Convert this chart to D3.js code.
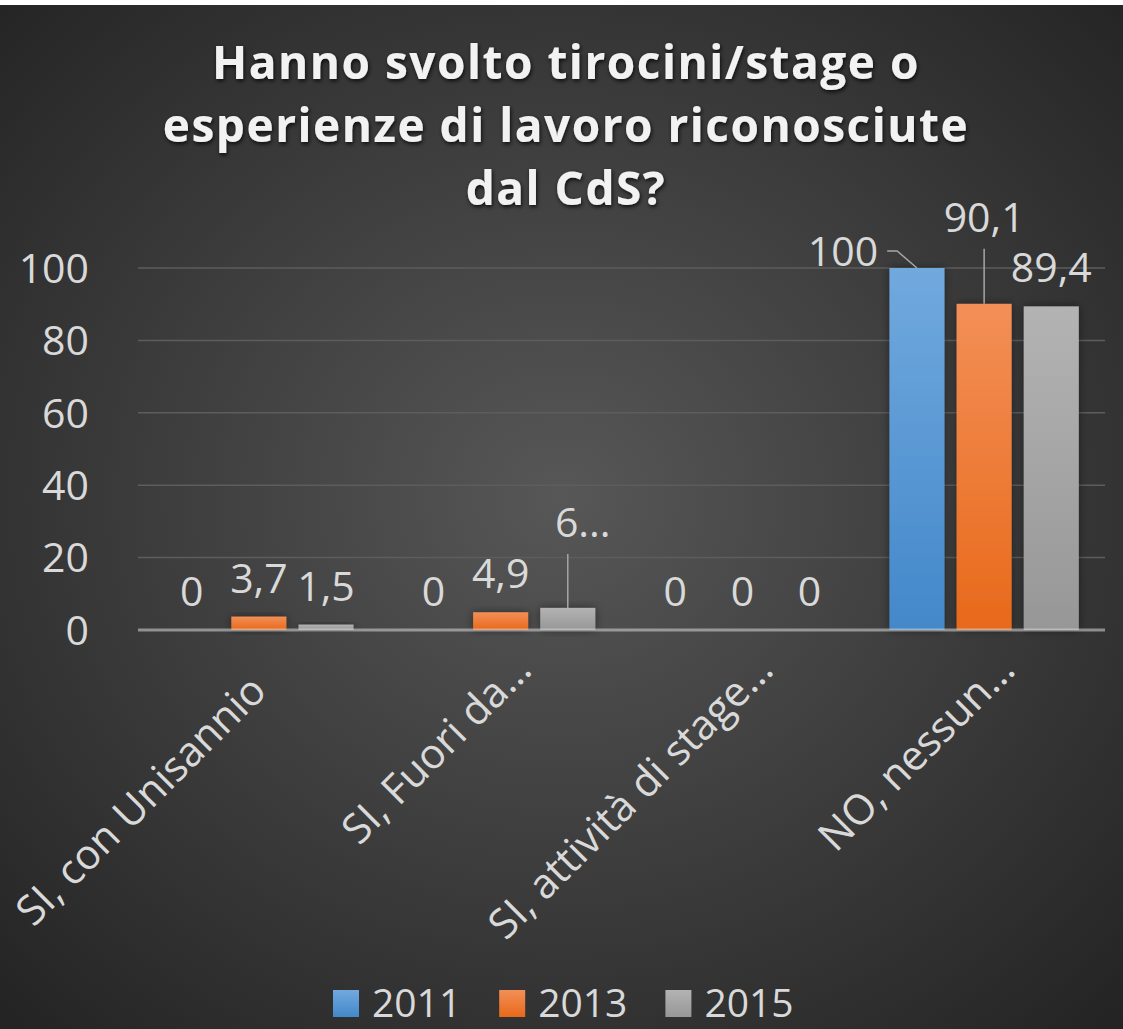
<!DOCTYPE html>
<html>
<head>
<meta charset="utf-8">
<script src="https://cdn.jsdelivr.net/npm/d3@7"></script>
<style>
  html, body { margin: 0; padding: 0; background: #ffffff; }
  svg { display: block; }
  text { font-family: "Open Sans", "DejaVu Sans", sans-serif; }
</style>
</head>
<body>
<div id="chart"></div>
<script>
// chart data
var categories = ['SI, con Unisannio', 'SI, Fuori da\u2026', 'SI, attivit\u00e0 di stage\u2026', 'NO, nessun\u2026'];
var years = ['2011', '2013', '2015'];
var values2011 = [0, 0, 0, 100];
var values2013 = [3.7, 4.9, 0, 90.1];
var values2015 = [1.5, 6.1, 0, 89.4];
var yTicks = [0, 20, 40, 60, 80, 100];
var titleLines = ['Hanno svolto tirocini/stage o', 'esperienze di lavoro riconosciute', 'dal CdS?'];

var colors = {
  '2011': ['#71a9de', '#4388ca'],
  '2013': ['#f38f57', '#e8691a'],
  '2015': ['#b3b3b3', '#979797']
};

// labels that were dragged in the original, with their text
var movedLabels = {
  '2011-3': {dx: -74, dy: 22},
  '2013-3': {dx: 0, dy: -48},
  '2015-1': {dx: 15, dy: -47, text: '6...'}
};

var seriesValues = {'2011': values2011, '2013': values2013, '2015': values2015};
var rows = [];
years.forEach(function(yr) {
  seriesValues[yr].forEach(function(v, i) {
    rows.push({year: yr, cat: categories[i], ci: i, value: v});
  });
});

var W = 1123, H = 1029;
var svg = d3.select('#chart').append('svg')
  .attr('width', W)
  .attr('height', H);

var defs = svg.append('defs');
var bg = defs.append('radialGradient').attr('id', 'bg')
  .attr('cx', '50%').attr('cy', '48%').attr('r', '72%');
bg.append('stop').attr('offset', '0%').attr('stop-color', '#575757');
bg.append('stop').attr('offset', '100%').attr('stop-color', '#232323');

years.forEach(function(yr) {
  var g = defs.append('linearGradient').attr('id', 'g' + yr)
    .attr('x1', 0).attr('y1', 0).attr('x2', 0).attr('y2', 1);
  g.append('stop').attr('offset', '0%').attr('stop-color', colors[yr][0]);
  g.append('stop').attr('offset', '100%').attr('stop-color', colors[yr][1]);
});

var shadow = defs.append('filter').attr('id', 'shadow')
  .attr('x', '-30%').attr('y', '-30%').attr('width', '160%').attr('height', '160%');
shadow.append('feDropShadow').attr('dx', 0).attr('dy', 0)
  .attr('stdDeviation', 5).attr('flood-color', '#000').attr('flood-opacity', 0.45);

var tshadow = defs.append('filter').attr('id', 'tshadow')
  .attr('x', '-5%').attr('y', '-30%').attr('width', '110%').attr('height', '160%');
tshadow.append('feDropShadow').attr('dx', 1).attr('dy', 2)
  .attr('stdDeviation', 2).attr('flood-color', '#000').attr('flood-opacity', 0.8);

//background (white strip on top, as in the picture)
svg.append('rect').attr('width', W).attr('height', H).attr('fill', '#ffffff');
svg.append('rect').attr('y', 5).attr('width', W).attr('height', H - 5).attr('fill', 'url(#bg)');

// scales
var x0 = d3.scaleBand().domain(categories).range([138, 1105]);
var x1 = d3.scaleBand().domain(years).range([0, x0.bandwidth()])
  .paddingInner(0.18).paddingOuter(0.39);
var y = d3.scaleLinear().domain([0, 100]).range([630, 268]);

// gridlines
svg.append('g')
  .selectAll('line')
  .data(yTicks.filter(function(t) { return t > 0; }))
  .enter()
  .append('line')
  .attr('x1', 138).attr('x2', 1105)
  .attr('y1', function(d) { return y(d); })
  .attr('y2', function(d) { return y(d); })
  .attr('stroke', '#5d5d5d')
  .attr('stroke-width', 1.5);

// y axis labels
var yAxis = svg.append('g')
  .attr('transform', 'translate(138,0)')
  .call(d3.axisLeft(y).tickValues(yTicks).tickSize(0).tickPadding(49));
yAxis.select('.domain').remove();
yAxis.selectAll('text')
  .attr('fill', '#d9d9d9')
  .style('font-size', '41px')
  .attr('dy', '0.35em');

// bars
svg.append('g')
  .selectAll('rect')
  .data(rows.filter(function(d) { return d.value > 0; }))
  .enter()
  .append('rect')
  .attr('x', function(d) { return x0(d.cat) + x1(d.year); })
  .attr('y', function(d) { return y(d.value); })
  .attr('width', x1.bandwidth())
  .attr('height', function(d) { return y(0) - y(d.value); })
  .attr('fill', function(d) { return 'url(#g' + d.year + ')'; })
  .attr('filter', 'url(#shadow)');

// category axis line
svg.append('line')
  .attr('x1', 138).attr('x2', 1105)
  .attr('y1', y(0)).attr('y2', y(0))
  .attr('stroke', '#d9d9d9')
  .attr('stroke-opacity', 0.55)
  .attr('stroke-width', 3);

// data labels
var fmt = function(v) { return String(v).replace('.', ','); };
var labels = svg.append('g')
  .selectAll('g')
  .data(rows)
  .enter()
  .append('g');

labels.each(function(d) {
  var g = d3.select(this);
  var cx = x0(d.cat) + x1(d.year) + x1.bandwidth() / 2;
  var top = y(d.value);
  var m = movedLabels[d.year + '-' + d.ci];
  var lx = cx + (m ? m.dx : 0);
  var ly = top - 24 + (m ? m.dy : 0);
  var t = g.append('text')
    .attr('x', lx).attr('y', ly)
    .attr('text-anchor', 'middle')
    .attr('fill', '#d9d9d9')
    .style('font-size', '41px')
    .text(m && m.text ? m.text : fmt(d.value));
  if (m) {
    var line;
    if (Math.abs(m.dx) < 20) {
      line = [[cx, ly + 17], [cx, top]];
    } else {
      var w = t.node().getComputedTextLength();
      var sx = lx + w / 2 + 9, sy = ly - 15;
      line = [[sx, sy], [sx + 10, sy], [cx, top]];
    }
    g.append('path')
      .attr('d', d3.line()(line))
      .attr('fill', 'none')
      .attr('stroke', '#a6a6a6')
      .attr('stroke-width', 1.5);
  }
});

// category labels, rotated
svg.append('g')
  .selectAll('text')
  .data(categories)
  .enter()
  .append('text')
  .attr('transform', function(d) {
    var cx = x0(d) + x0.bandwidth() / 2;
    var trunc = d.slice(-1) === '\u2026';
    return 'translate(' + (cx + (trunc ? 33 : 9.5)) + ',' + (trunc ? 672 : 693) + ') rotate(-45)';
  })
  .attr('text-anchor', 'end')
  .attr('fill', '#d9d9d9')
  .style('font-size', '41.5px')
  .text(function(d) { return d; });

// title
svg.append('g')
  .selectAll('text')
  .data(titleLines)
  .enter()
  .append('text')
  .attr('x', 566)
  .attr('y', function(d, i) { return 79 + i * 63; })
  .attr('text-anchor', 'middle')
  .attr('fill', '#f2f2f2')
  .attr('filter', 'url(#tshadow)')
  .style('font-size', '46px')
  .style('font-weight', 700)
  .style('letter-spacing', '1.5px')
  .text(function(d) { return d; });

// legend
var legend = svg.append('g').attr('transform', 'translate(333,990)');
var lx = 0;
years.forEach(function(yr) {
  var item = legend.append('g').attr('transform', 'translate(' + lx + ',0)');
  item.append('rect')
    .attr('width', 26).attr('height', 27)
    .attr('fill', 'url(#g' + yr + ')');
  var t = item.append('text')
    .attr('x', 39).attr('y', 27)
    .attr('fill', '#d9d9d9')
    .style('font-size', '39px')
    .text(yr);
  lx += 39 + t.node().getComputedTextLength() + 38;
});
</script>
</body>
</html>
